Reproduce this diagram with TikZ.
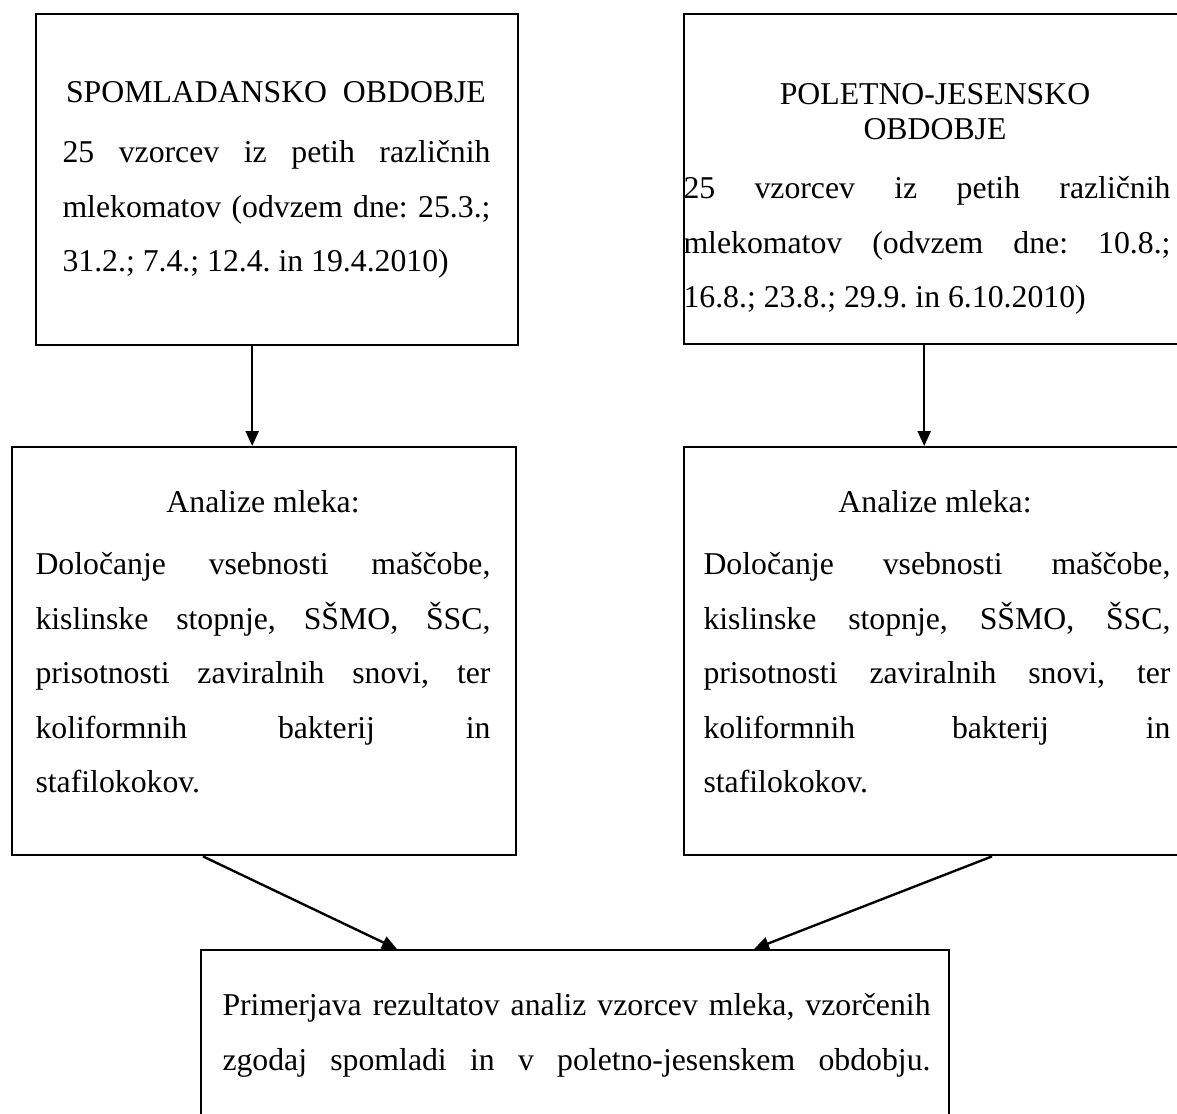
\documentclass[tikz,border=0pt]{standalone}
\usepackage{fontspec}
\setmainfont{Liberation Serif}
\usetikzlibrary{arrows.meta}
\newcommand\jl[2]{\makebox[#1][s]{#2}}
\newcommand\topr{\rule{0pt}{10pt}}
\frenchspacing
\begin{document}
\begin{tikzpicture}[x=0.4pt,y=-0.4pt,
  frame/.style={draw, line width=0.95pt, inner sep=0pt, anchor=north west},
  txt/.style={inner sep=0pt, anchor=north west, align=left, font=\fontsize{12.7}{21.8}\selectfont},
  head/.style={inner sep=0pt, anchor=north, align=center, font=\fontsize{12.7}{13.8}\selectfont},
  arr/.style={line width=0.95pt, -{Triangle[length=6pt,width=5.2pt]}}]
\clip (0,0) rectangle (1177,1113);
\fill[white] (0,0) rectangle (1177,1113);
% frames
\node[frame, minimum width=192.8pt, minimum height=132.4pt] (a) at (35,13) {};
\node[frame, minimum width=202pt, minimum height=132pt] (b) at (683,13) {};
\node[frame, minimum width=201.6pt, minimum height=163.2pt] (c) at (11,446) {};
\node[frame, minimum width=202pt, minimum height=163.2pt] (d) at (683,446) {};
\node[frame, minimum width=299.2pt, minimum height=72.4pt] (e) at (200,949) {};
% texts
\node[head] (ah) at (276,77) {\topr SPOMLADANSKO~~OBDOBJE};
\node[txt] (at) at (62,137) {\topr\jl{171.2pt}{25 vzorcev iz petih različnih}\\
\jl{171.2pt}{mlekomatov (odvzem dne: 25.3.;}\\
31.2.; 7.4.; 12.4. in 19.4.2010)};
\node[head] (bh) at (935,79) {\topr POLETNO-JESENSKO\\OBDOBJE};
\node[txt] (bt) at (683,173) {\topr\jl{194.8pt}{25 vzorcev iz petih različnih}\\
\jl{194.8pt}{mlekomatov (odvzem dne: 10.8.;}\\
16.8.; 23.8.; 29.9. in 6.10.2010)};
\node[head] (ch) at (263,487) {\topr Analize mleka:};
\node[txt] (ct) at (35,549) {\topr\jl{182pt}{Določanje vsebnosti maščobe,}\\
\jl{182pt}{kislinske stopnje, SŠMO, ŠSC,}\\
\jl{182pt}{prisotnosti zaviralnih snovi, ter}\\
\jl{182pt}{koliformnih bakterij in}\\
stafilokokov.};
\node[head] (dh) at (935,487) {\topr Analize mleka:};
\node[txt] (dt) at (703,549) {\topr\jl{186.8pt}{Določanje vsebnosti maščobe,}\\
\jl{186.8pt}{kislinske stopnje, SŠMO, ŠSC,}\\
\jl{186.8pt}{prisotnosti zaviralnih snovi, ter}\\
\jl{186.8pt}{koliformnih bakterij in}\\
stafilokokov.};
\node[txt] (et) at (222,990) {\topr\jl{283.2pt}{Primerjava rezultatov analiz vzorcev mleka, vzorčenih}\\
\jl{283.2pt}{zgodaj spomladi in v poletno-jesenskem obdobju.}};
% connectors
\draw[arr] ([xshift=-10pt]a.south) -- ([xshift=-10pt]a.south |- c.north);
\draw[arr] ([xshift=-5pt]b.south) -- ([xshift=-5pt]b.south |- d.north);
\draw[arr] ([xshift=76.8pt]c.south west) -- ([xshift=78.8pt]e.north west);
\draw[arr] ([xshift=123.6pt]d.south west) -- ([xshift=221.6pt]e.north west);
\end{tikzpicture}
\end{document}
